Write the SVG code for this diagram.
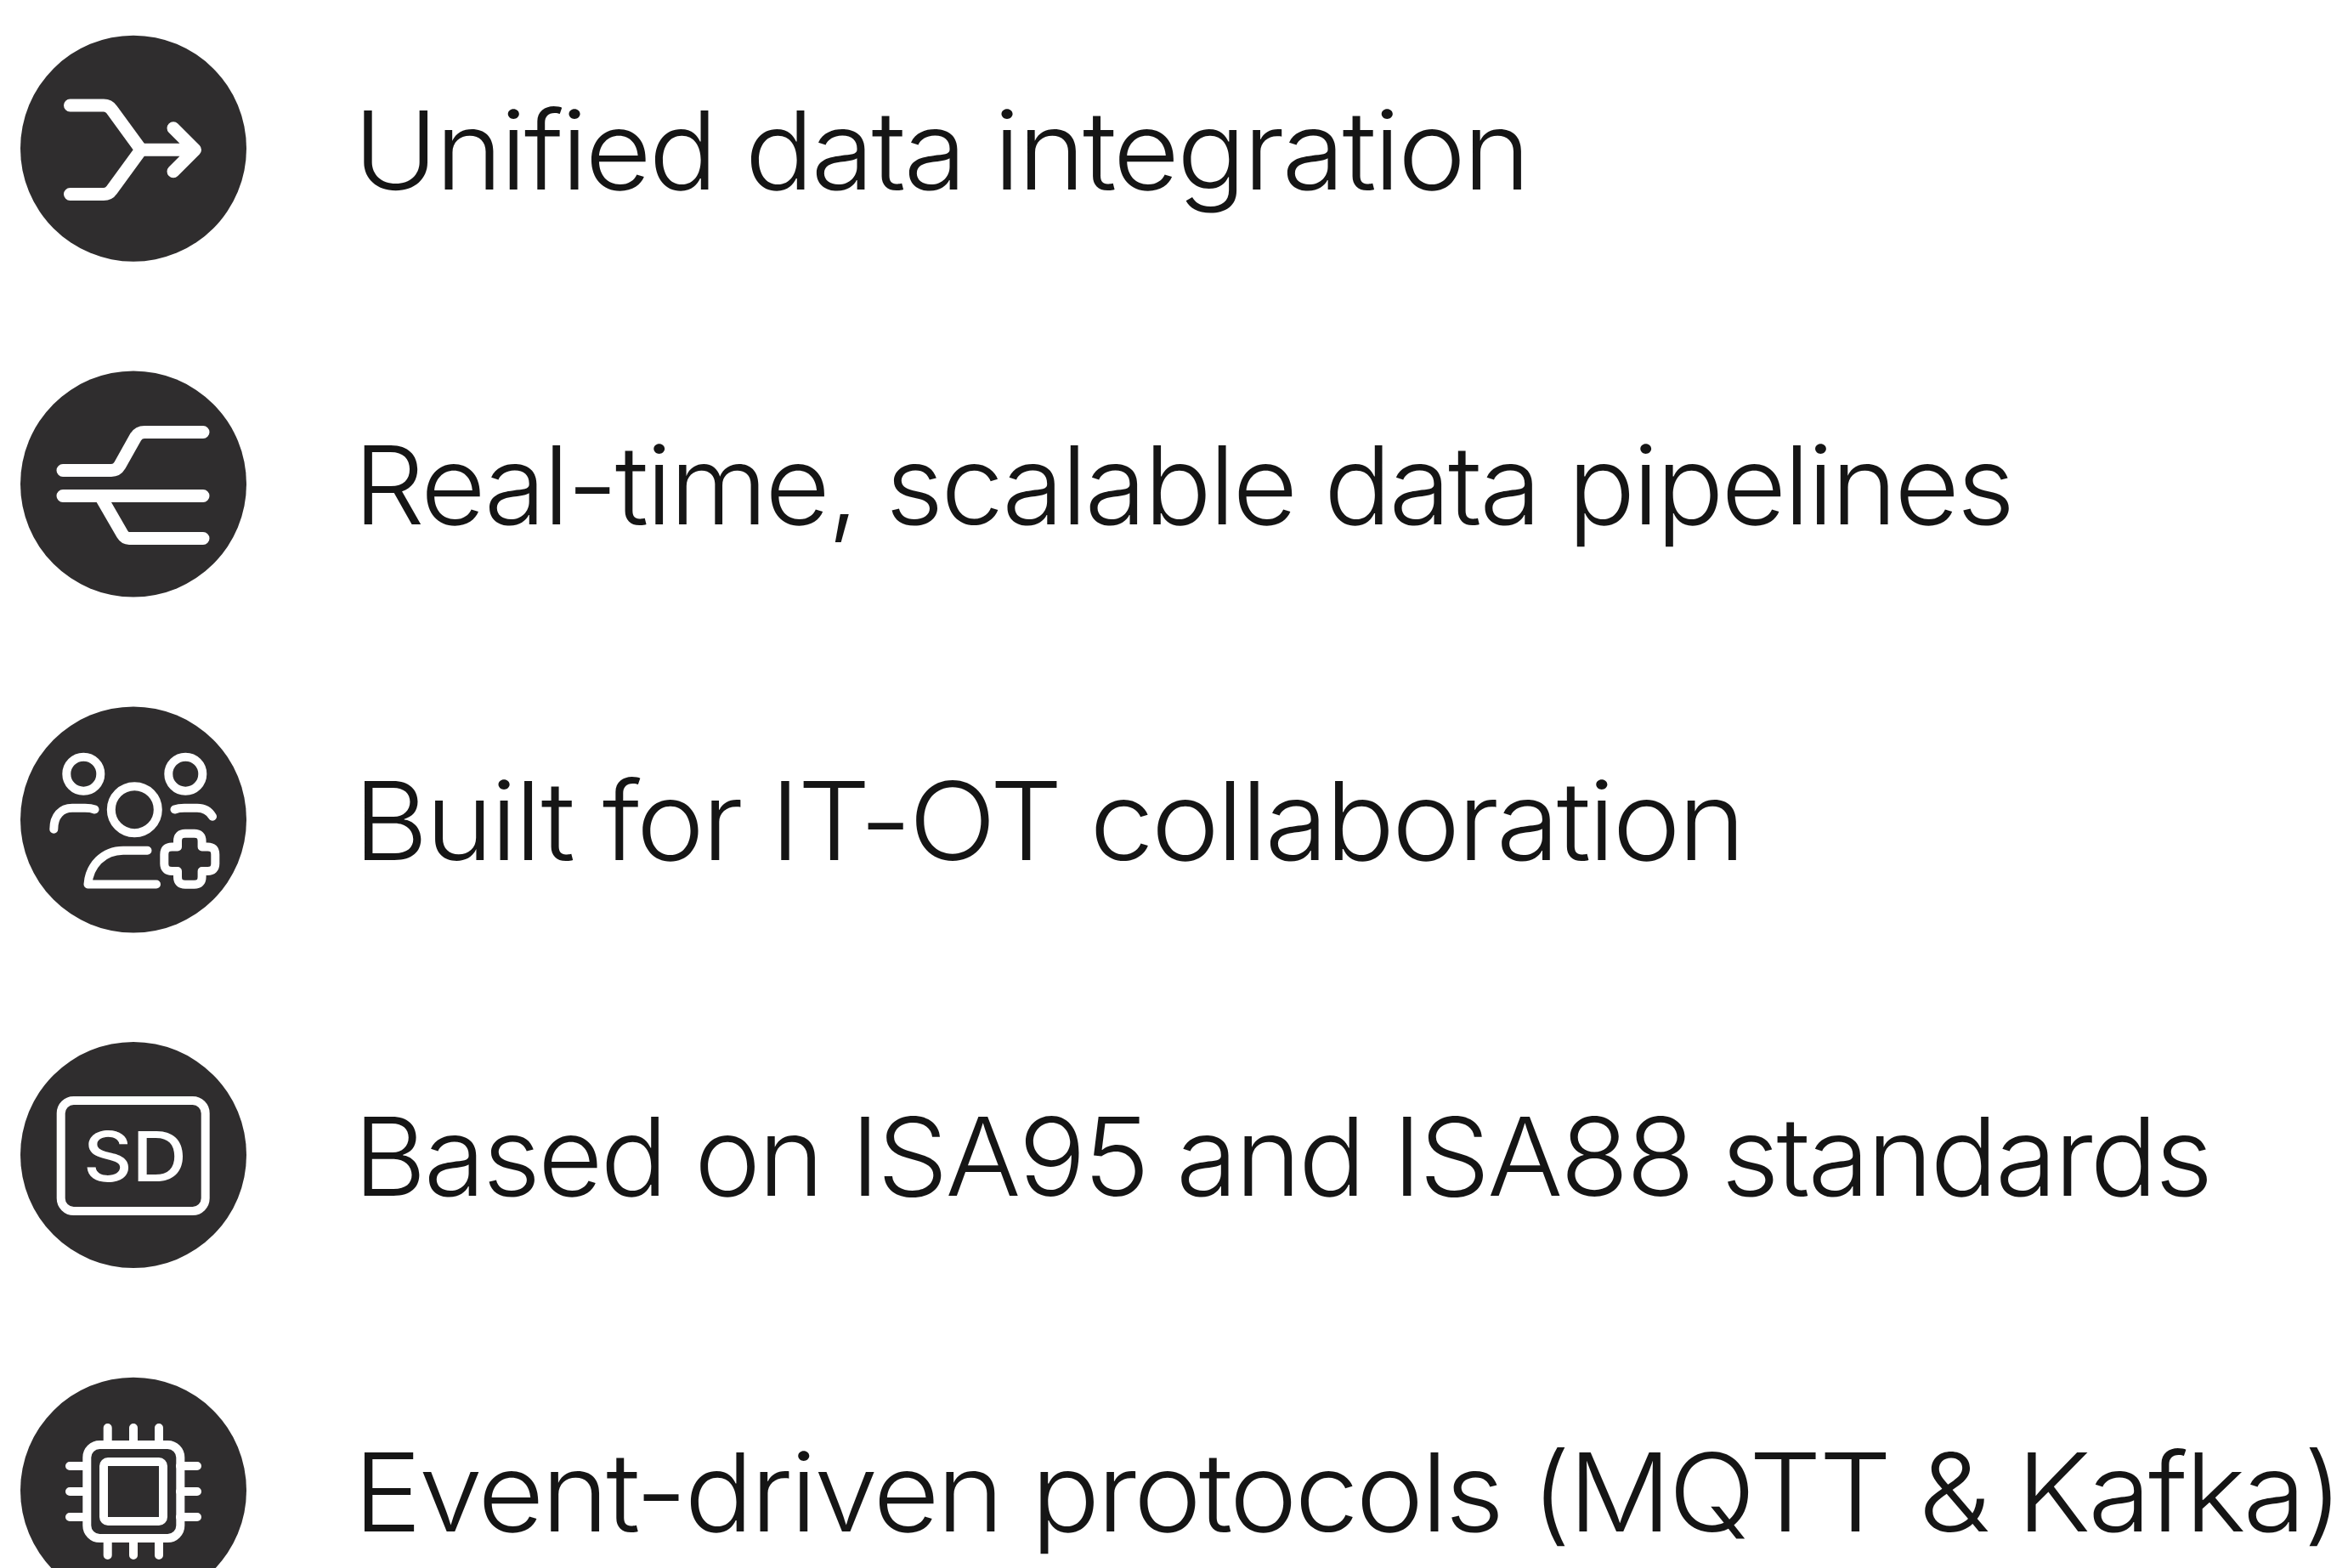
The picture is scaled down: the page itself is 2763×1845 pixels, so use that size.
<svg xmlns="http://www.w3.org/2000/svg" width="2763" height="1845" viewBox="0 0 2763 1845">
<style>
.disc{fill:#2f2d2e}
.ic{fill:none;stroke:#fff;stroke-width:15;stroke-linecap:round;stroke-linejoin:round}
.th{stroke-width:10}
.lbl{font-family:"Inter","Noto Sans",sans-serif;font-weight:300;font-size:128px;letter-spacing:-3px;fill:#151515}
.sd{font-family:"Inter","Noto Sans",sans-serif;font-weight:500;font-size:81px;fill:#fff}
</style>
<rect width="2763" height="1845" fill="#fff"/>
<g id="row-unified">
<circle class="disc" cx="157" cy="174.7" r="133"/>
<path class="ic" style="stroke-linejoin:miter" d="M82.5 124H122Q128 124 131.5 129L166 176.2L131.5 223.5Q128 228.5 122 228.5H82.5"/>
<path class="ic" d="M166 176.2H228M204 150.7L229.5 176.2L204 201.7"/>
<text class="lbl" x="416" y="222.7" textLength="1382" lengthAdjust="spacingAndGlyphs">Unified data integration</text>
</g>
<g id="row-pipelines">
<circle class="disc" cx="157" cy="569.5" r="133"/>
<path class="ic" d="M74 553.5H131Q137.5 553.5 141 547.5L159.5 514.5Q163 508.5 170 508.5H239M74 583.5H239M239 633.5H152Q147 633.5 144 628.5L118 583.5"/>
<text class="lbl" x="416" y="617.3" textLength="1952" lengthAdjust="spacingAndGlyphs">Real-time, scalable data pipelines</text>
</g>
<g id="row-collaboration">
<circle class="disc" cx="157" cy="964.5" r="133"/>
<circle class="ic th" cx="98.3" cy="910.7" r="20"/>
<circle class="ic th" cx="218.3" cy="910.7" r="20"/>
<circle class="ic th" cx="158.3" cy="952.7" r="27.5"/>
<path class="ic th" d="M111.5 952.5Q107 950.7 100 950.7H85C72 950.7 63.3 960 63.3 975.7M205.5 952.5Q210 950.7 217 950.7H232C240 950.7 246 954 250 960.7M173.5 1000.7H145C122 1000.7 105 1018 103.5 1040.5H184"/>
<path class="ic th" transform="translate(223.3 1010.7)" d="M-5.3-30H5.3Q14.3-30 14.3-21V-14.3H21Q30-14.3 30-5.3V5.3Q30 14.3 21 14.3H14.3V21Q14.3 30 5.3 30H-5.3Q-14.3 30-14.3 21V14.3H-21Q-30 14.3-30 5.3V-5.3Q-30-14.3-21-14.3H-14.3V-21Q-14.3-30-5.3-30Z"/>
<text class="lbl" x="416" y="1012.3" textLength="1635" lengthAdjust="spacingAndGlyphs">Built for IT-OT collaboration</text>
</g>
<g id="row-standards">
<circle class="disc" cx="157" cy="1359" r="133"/>
<rect class="ic th" x="71.7" y="1295" width="170" height="130" rx="15"/>
<text class="sd" x="98" y="1390" textLength="122" lengthAdjust="spacingAndGlyphs">SD</text>
<text class="lbl" x="416" y="1407" textLength="2185" lengthAdjust="spacingAndGlyphs">Based on ISA95 and ISA88 standards</text>
</g>
<g id="row-protocols">
<circle class="disc" cx="157" cy="1753.7" r="133"/>
<rect class="ic th" x="102.3" y="1700" width="110" height="110" rx="15"/>
<rect class="ic th" x="122" y="1720" width="70" height="70" rx="5"/>
<path class="ic th" d="M126.7 1680V1700M157 1680V1700M187 1680V1700M126.7 1810V1830M157 1810V1830M187 1810V1830M82 1725H102M82 1755H102M82 1785H102M212 1725H232M212 1755H232M212 1785H232"/>
<text class="lbl" x="416" y="1801.7" textLength="2338" lengthAdjust="spacingAndGlyphs">Event-driven protocols (MQTT &amp; Kafka)</text>
</g>
</svg>
